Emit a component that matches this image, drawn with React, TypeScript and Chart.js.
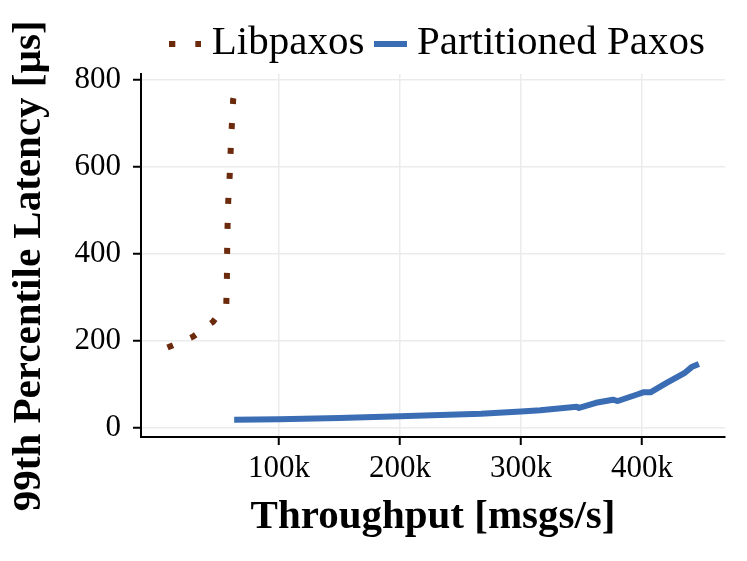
import { useEffect, useRef } from 'react';
import { Chart, registerables, ChartConfiguration } from 'chart.js';

Chart.register(...registerables);

// Libpaxos: throughput [msgs/s] vs 99th percentile latency [µs]
const libpaxosX = [7900, 29000, 45500, 56500, 57000, 57300, 58100, 59300, 60400, 62200, 63400];
const libpaxosY = [185, 210, 244, 285, 348, 440, 522, 581, 660, 756, 771];

// Partitioned Paxos
const partitionedX = [
    63000, 100000, 150000, 200000, 267000, 300000, 316000, 346000, 348000, 362000,
    376000, 380000, 396000, 401000, 407000, 420000, 435000, 441000, 447000,
];
const partitionedY = [
    18.7, 20, 23, 27, 33, 38, 41, 49, 46, 58,
    65, 62, 77, 82, 82, 103, 126, 140, 147,
];

const xTicks = [100000, 200000, 300000, 400000];
const xTickLabels = ['100k', '200k', '300k', '400k'];
const yTicks = [0, 200, 400, 600, 800];
const yTickLabels = ['0', '200', '400', '600', '800'];

const SERIF = "'Liberation Serif', 'Times New Roman', serif";
const BROWN = '#6b2a0c';
const BLUE = '#3b6db4';

// small legend markers: dotted sample and solid sample
const makeMarker = (kind: 'dots' | 'line', color: string) => {
    const c = document.createElement('canvas');
    const ctx = c.getContext('2d')!;
    if (kind === 'dots') {
        c.width = 32;
        c.height = 6;
        ctx.fillStyle = color;
        ctx.fillRect(0, 0, 6, 6);
        ctx.fillRect(26, 0, 6, 6);
    } else {
        c.width = 33;
        c.height = 6;
        ctx.fillStyle = color;
        ctx.fillRect(0, 0, 33, 6);
    }
    return c;
};

const App = () => {
    const canvasRef = useRef<HTMLCanvasElement | null>(null);
    const chartInstance = useRef<Chart<'line'> | null>(null);

    useEffect(() => {
        if (!canvasRef.current) return;
        if (chartInstance.current) chartInstance.current.destroy();

        const grid = {
            color: '#ebebeb',
            lineWidth: 1.5,
            tickColor: '#000',
            tickWidth: 2,
            tickLength: 8,
        };
        const border = { color: '#000', width: 2 };

        const config: ChartConfiguration<'line'> = {
            type: 'line',
            data: {
                datasets: [
                    {
                        label: 'Libpaxos',
                        data: libpaxosX.map((x, i) => ({ x, y: libpaxosY[i] })),
                        borderColor: BROWN,
                        backgroundColor: BROWN,
                        borderWidth: 6,
                        borderDash: [6, 19],
                        borderCapStyle: 'butt',
                        pointRadius: 0,
                        pointStyle: makeMarker('dots', BROWN),
                        tension: 0,
                    },
                    {
                        label: 'Partitioned Paxos',
                        data: partitionedX.map((x, i) => ({ x, y: partitionedY[i] })),
                        borderColor: BLUE,
                        backgroundColor: BLUE,
                        borderWidth: 6,
                        borderCapStyle: 'butt',
                        borderJoinStyle: 'round',
                        pointRadius: 0,
                        pointStyle: makeMarker('line', BLUE),
                        tension: 0,
                    },
                ],
            },
            options: {
                animation: false,
                responsive: true,
                maintainAspectRatio: false,
                layout: { padding: { left: 0, right: 22, top: 3, bottom: 0 } },
                plugins: {
                    legend: {
                        position: 'top',
                        align: 'end',
                        labels: {
                            usePointStyle: true,
                            pointStyleWidth: 12,
                            padding: 20,
                            color: '#000',
                            font: { family: SERIF, size: 41 },
                        },
                    },
                    tooltip: { enabled: false },
                },
                scales: {
                    x: {
                        type: 'linear',
                        min: -14000,
                        max: 468600,
                        afterBuildTicks: (axis) => {
                            axis.ticks = xTicks.map((v) => ({ value: v }));
                        },
                        afterFit: (scale) => {
                            scale.height = 124;
                        },
                        ticks: {
                            callback: (_v, i) => xTickLabels[i],
                            color: '#000',
                            padding: 5,
                            maxRotation: 0,
                            font: { family: SERIF, size: 31 },
                        },
                        grid,
                        border,
                        title: {
                            display: true,
                            text: 'Throughput [msgs/s]',
                            color: '#000',
                            padding: { top: 0, bottom: 19 },
                            font: { family: SERIF, size: 41, weight: 'bold' },
                        },
                    },
                    y: {
                        type: 'linear',
                        min: -20.7,
                        max: 813.8,
                        afterBuildTicks: (axis) => {
                            axis.ticks = yTicks.map((v) => ({ value: v }));
                        },
                        afterFit: (scale) => {
                            scale.width = 141;
                        },
                        ticks: {
                            callback: (_v, i) => yTickLabels[i],
                            color: '#000',
                            padding: 12,
                            font: { family: SERIF, size: 31 },
                        },
                        grid,
                        border,
                        title: {
                            display: true,
                            // trailing spaces nudge the centred title down a little
                            text: '99th Percentile Latency [µs]  ',
                            color: '#000',
                            padding: { top: 5, bottom: 0 },
                            font: { family: SERIF, size: 41, weight: 'bold' },
                        },
                    },
                },
            },
        };

        chartInstance.current = new Chart(canvasRef.current, config);

        return () => {
            if (chartInstance.current) {
                chartInstance.current.destroy();
                chartInstance.current = null;
            }
        };
    }, []);

    return (
        <div style={{ position: 'absolute', left: 0, top: 0, width: 747, height: 561, background: '#fff' }}>
            <canvas ref={canvasRef} />
        </div>
    );
};

export default App;
